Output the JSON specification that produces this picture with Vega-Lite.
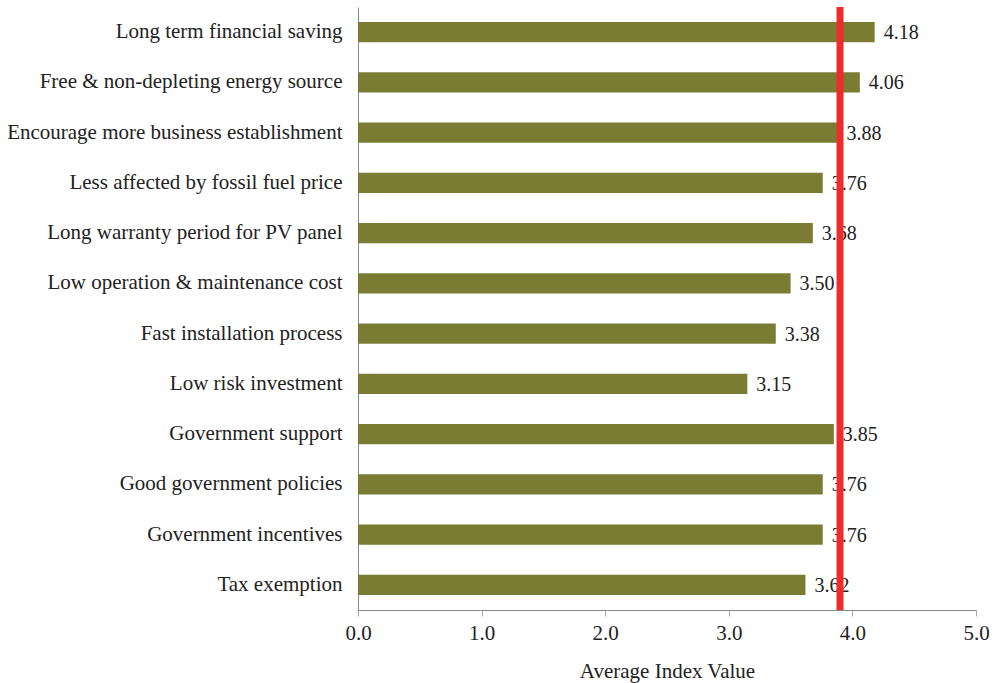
{
  "$schema": "https://vega.github.io/schema/vega-lite/v6.json",
  "autosize": "none",
  "padding": {"left": 358, "top": 7, "right": 20, "bottom": 73},
  "width": 618,
  "height": 603,
  "background": "white",
  "config": {"view": {"stroke": null}, "font": "Liberation Serif"},
  "data": {"values": [
    {"factor": "Long term financial saving", "value": 4.18},
    {"factor": "Free & non-depleting energy source", "value": 4.06},
    {"factor": "Encourage more business establishment", "value": 3.88},
    {"factor": "Less affected by fossil fuel price", "value": 3.76},
    {"factor": "Long warranty period for PV panel", "value": 3.68},
    {"factor": "Low operation & maintenance cost", "value": 3.50},
    {"factor": "Fast installation process", "value": 3.38},
    {"factor": "Low risk investment", "value": 3.15},
    {"factor": "Government support", "value": 3.85},
    {"factor": "Good government policies", "value": 3.76},
    {"factor": "Government incentives", "value": 3.76},
    {"factor": "Tax exemption", "value": 3.62}
  ]},
  "encoding": {
    "y": {"field": "factor", "type": "nominal", "sort": null,
      "scale": {"paddingInner": 0.6, "paddingOuter": 0.3},
      "axis": {"title": null, "labelFont": "Liberation Serif", "labelFontSize": 21, "labelColor": "#222222",
        "labelPadding": 16, "ticks": false, "domainColor": "#888888", "labelLimit": 400}}
  },
  "layer": [
    {
      "mark": {"type": "bar", "color": "#7a7c33"},
      "encoding": {
        "x": {"field": "value", "type": "quantitative",
          "scale": {"domain": [0, 5], "nice": false},
          "axis": {"title": "Average Index Value", "titleFont": "Liberation Serif", "titleFontSize": 21,
            "titleFontWeight": "normal", "titleColor": "#222222", "titlePadding": 17,
            "values": [0, 1, 2, 3, 4, 5], "format": ".1f", "labelFont": "Liberation Serif",
            "labelFontSize": 21, "labelColor": "#222222", "labelPadding": 6, "labelFlush": false,
            "grid": false, "domainColor": "#888888", "tickColor": "#aaaaaa", "tickSize": 6}}
      }
    },
    {
      "mark": {"type": "text", "align": "left", "baseline": "middle", "dx": 9, "dy": 1,
        "font": "Liberation Serif", "fontSize": 20, "color": "#222222"},
      "encoding": {
        "x": {"field": "value", "type": "quantitative"},
        "text": {"field": "value", "type": "quantitative", "format": ".2f"}
      }
    },
    {
      "data": {"values": [{"mean": 3.9}]},
      "mark": {"type": "rule", "color": "#ee2c2c", "strokeWidth": 7},
      "encoding": {"x": {"field": "mean", "type": "quantitative"}, "y": null}
    }
  ]
}
